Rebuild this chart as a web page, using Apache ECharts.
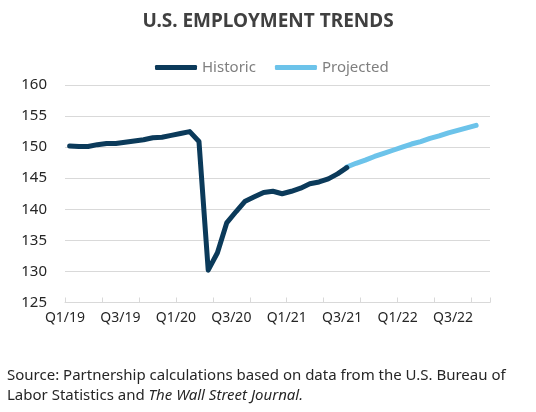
<!DOCTYPE html>
<html>
<head>
<meta charset="utf-8">
<script src="https://cdn.jsdelivr.net/npm/echarts@6/dist/echarts.min.js"></script>
<style>html,body{margin:0;padding:0;background:#fff}#c{width:536px;height:412px}</style>
</head>
<body>
<div id="c"></div>
<script>
// Monthly categories Jan 2019 .. Oct 2022
var months = [
  'Jan 2019','Feb 2019','Mar 2019','Apr 2019','May 2019','Jun 2019','Jul 2019','Aug 2019','Sep 2019','Oct 2019','Nov 2019','Dec 2019',
  'Jan 2020','Feb 2020','Mar 2020','Apr 2020','May 2020','Jun 2020','Jul 2020','Aug 2020','Sep 2020','Oct 2020','Nov 2020','Dec 2020',
  'Jan 2021','Feb 2021','Mar 2021','Apr 2021','May 2021','Jun 2021','Jul 2021','Aug 2021','Sep 2021','Oct 2021','Nov 2021','Dec 2021',
  'Jan 2022','Feb 2022','Mar 2022','Apr 2022','May 2022','Jun 2022','Jul 2022','Aug 2022','Sep 2022','Oct 2022'
];
// Historic: Jan 2019 .. Jul 2021 (millions)
var historic = [
  150.2, 150.1, 150.1, 150.4, 150.6, 150.6, 150.8, 151.0, 151.2, 151.5, 151.6, 151.9,
  152.2, 152.5, 150.9, 130.2, 133.0, 137.8, 139.6, 141.3, 142.0, 142.7, 142.9, 142.5,
  142.9, 143.4, 144.1, 144.4, 144.9, 145.7, 146.7
];
// Projected: Jul 2021 .. Sep 2022
var projectedStartIndex = 30;
var projected = [
  146.8, 147.4, 147.9, 148.5, 149.0, 149.5, 150.0, 150.5, 150.9, 151.4, 151.8, 152.3, 152.7, 153.1, 153.5
];
// Quarter tick labels, every 6 months starting Q1/19
var tickLabels = ['Q1/19','Q3/19','Q1/20','Q3/20','Q1/21','Q3/21','Q1/22','Q3/22'];
var labelEvery = 6;
var yTicks = [125, 130, 135, 140, 145, 150, 155, 160];

var histData = months.map(function(m, i){ return i < historic.length ? historic[i] : null; });
var projData = months.map(function(m, i){
  var k = i - projectedStartIndex;
  return (k >= 0 && k < projected.length) ? projected[k] : null;
});
// boundary axis: one entry per month boundary (months.length + 1)
var boundaries = [];
for (var b = 0; b <= months.length; b++) {
  boundaries.push(b % labelEvery === 0 && tickLabels[b / labelEvery] ? tickLabels[b / labelEvery] : '');
}

var FONT = 'Noto Sans';
var chart = echarts.init(document.getElementById('c'), null, {renderer: 'canvas'});
chart.setOption({
  animation: false,
  backgroundColor: '#ffffff',
  title: [{
    text: 'U.S. EMPLOYMENT TRENDS',
    left: 'center',
    top: 7,
    textStyle: {fontFamily: FONT, fontSize: 19, fontWeight: 'bold', color: '#404040'}
  }, {
    text: 'Source: Partnership calculations based on data from the U.S. Bureau of\nLabor Statistics and {i|The Wall Street Journal.}',
    left: 2,
    top: 361,
    textStyle: {
      fontFamily: FONT, fontSize: 15, fontWeight: 'normal', color: '#262626', lineHeight: 20,
      rich: {i: {fontFamily: FONT, fontSize: 15, fontStyle: 'italic', color: '#262626', lineHeight: 20}}
    }
  }],
  legend: {
    top: 55,
    left: 150,
    itemWidth: 42,
    itemHeight: 5,
    itemGap: 19,
    icon: 'roundRect',
    textStyle: {fontFamily: FONT, fontSize: 15, color: '#7f7f7f'},
    data: ['Historic', 'Projected']
  },
  grid: {left: 65, right: 46, top: 85, bottom: 109.5, containLabel: false},
  xAxis: [{
    type: 'category',
    data: months,
    boundaryGap: true,
    position: 'bottom',
    axisLine: {show: false},
    axisTick: {show: false},
    axisLabel: {show: false},
    splitLine: {show: false}
  }, {
    type: 'category',
    data: boundaries,
    boundaryGap: false,
    position: 'bottom',
    axisLine: {show: true, lineStyle: {color: '#d9d9d9', width: 1}},
    axisTick: {show: true, inside: true, length: 5, interval: 3, lineStyle: {color: '#d9d9d9'}},
    axisLabel: {show: true, interval: 0, margin: 9, fontFamily: FONT, fontSize: 14, color: '#262626'},
    splitLine: {show: false}
  }],
  yAxis: {
    type: 'value',
    min: yTicks[0],
    max: yTicks[yTicks.length - 1],
    interval: 5,
    axisLine: {show: false},
    axisTick: {show: false},
    axisLabel: {margin: 18, fontFamily: FONT, fontSize: 15, color: '#262626'},
    splitLine: {lineStyle: {color: '#d9d9d9', width: 1}}
  },
  series: [{
    name: 'Historic',
    type: 'line',
    xAxisIndex: 0,
    data: histData,
    showSymbol: false,
    symbol: 'none',
    connectNulls: false,
    lineStyle: {color: '#0b3a5a', width: 5, cap: 'round', join: 'round'},
    itemStyle: {color: '#0b3a5a'},
    z: 3
  }, {
    name: 'Projected',
    type: 'line',
    xAxisIndex: 0,
    data: projData,
    showSymbol: false,
    symbol: 'none',
    lineStyle: {color: '#6cc3ea', width: 5, cap: 'round', join: 'round'},
    itemStyle: {color: '#6cc3ea'},
    z: 2
  }]
});
</script>
</body>
</html>
